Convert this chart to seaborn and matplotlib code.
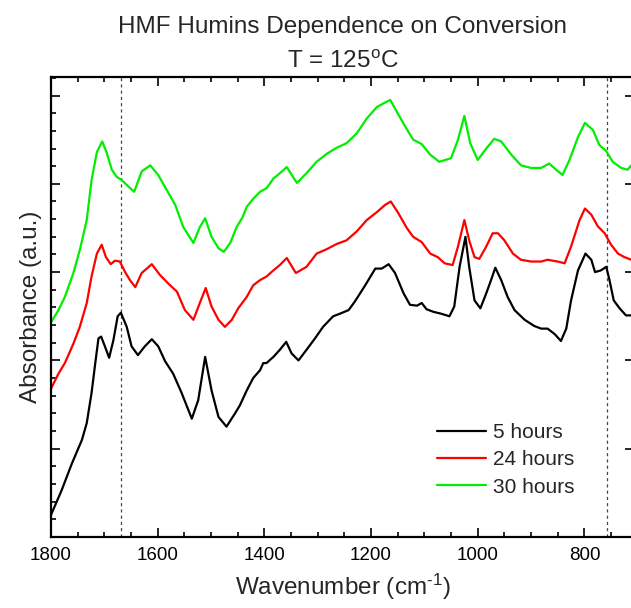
import numpy as np
import pandas as pd
import matplotlib
matplotlib.use("Agg")
import matplotlib.pyplot as plt
from matplotlib.ticker import MultipleLocator
from matplotlib.lines import Line2D
import seaborn as sns

# ---------------- data ----------------
wn_5h = [1800, 1780, 1761, 1742, 1733, 1724, 1717, 1711, 1706, 1699, 1691, 1683, 1675, 1669,
         1658, 1649, 1637, 1624, 1611, 1599, 1586, 1571, 1555, 1536, 1524, 1511, 1499, 1486,
         1471, 1455, 1446, 1433, 1421, 1408, 1402, 1396, 1383, 1371, 1359, 1349, 1336, 1321,
         1305, 1290, 1271, 1258, 1242, 1230, 1211, 1192, 1180, 1167, 1155, 1139, 1127, 1114,
         1105, 1096, 1083, 1069, 1053, 1044, 1034, 1023, 1016, 1006, 995, 984, 975, 967, 956,
         944, 931, 912, 894, 881, 869, 856, 844, 834, 825, 812, 798, 787, 780, 769, 759, 753,
         745, 734, 722, 712]
abs_5h = [0.25, 0.53, 0.83, 1.10, 1.29, 1.63, 1.97, 2.25, 2.27, 2.16, 2.03, 2.23, 2.50, 2.54,
          2.38, 2.16, 2.06, 2.16, 2.24, 2.16, 1.99, 1.85, 1.63, 1.34, 1.55, 2.04, 1.66, 1.36,
          1.25, 1.40, 1.49, 1.66, 1.80, 1.89, 1.97, 1.97, 2.04, 2.12, 2.21, 2.08, 2.00, 2.12,
          2.25, 2.38, 2.50, 2.53, 2.57, 2.67, 2.85, 3.04, 3.04, 3.09, 2.99, 2.76, 2.63, 2.62,
          2.65, 2.58, 2.55, 2.53, 2.50, 2.61, 3.06, 3.40, 3.06, 2.68, 2.59, 2.76, 2.91, 3.05, 2.91,
          2.72, 2.57, 2.46, 2.39, 2.36, 2.36, 2.30, 2.22, 2.36, 2.68, 3.02, 3.21, 3.14, 3.00, 3.02,
          3.06, 2.91, 2.68, 2.59, 2.51, 2.51]

wn_24h = [1800, 1786, 1774, 1758, 1746, 1733, 1724, 1714, 1705, 1697, 1688, 1680, 1671, 1661,
          1652, 1642, 1630, 1611, 1596, 1580, 1564, 1549, 1533, 1521, 1510, 1499, 1486, 1474,
          1461, 1449, 1433, 1421, 1408, 1396, 1383, 1371, 1358, 1341, 1321, 1302, 1283, 1264,
          1246, 1227, 1208, 1189, 1174, 1163, 1149, 1133, 1121, 1105, 1089, 1075, 1062, 1047,
          1037, 1025, 1016, 1006, 997, 984, 972, 962, 950, 934, 919, 900, 881, 869, 850, 837,
          825, 809, 799, 787, 775, 762, 750, 737, 725, 712]
abs_24h = [1.68, 1.85, 1.97, 2.19, 2.38, 2.65, 2.95, 3.21, 3.31, 3.17, 3.09, 3.13, 3.12, 3.00,
           2.91, 2.83, 2.99, 3.09, 2.97, 2.87, 2.78, 2.57, 2.46, 2.65, 2.82, 2.61, 2.46, 2.38,
           2.46, 2.59, 2.72, 2.85, 2.91, 2.95, 3.02, 3.08, 3.16, 2.99, 3.06, 3.21, 3.26, 3.32,
           3.36, 3.46, 3.59, 3.68, 3.76, 3.80, 3.67, 3.50, 3.40, 3.34, 3.21, 3.17, 3.10, 3.08,
           3.29, 3.59, 3.36, 3.17, 3.15, 3.29, 3.44, 3.44, 3.36, 3.21, 3.14, 3.12, 3.12, 3.14, 3.12, 3.10,
           3.29, 3.59, 3.72, 3.65, 3.52, 3.44, 3.31, 3.21, 3.17, 3.14]

wn_30h = [1800, 1786, 1774, 1758, 1746, 1733, 1724, 1714, 1704, 1696, 1686, 1677, 1667, 1655,
          1644, 1630, 1614, 1599, 1583, 1567, 1552, 1533, 1521, 1511, 1499, 1486, 1476, 1464,
          1452, 1441, 1433, 1421, 1408, 1396, 1383, 1371, 1358, 1339, 1321, 1302, 1283, 1264,
          1246, 1227, 1208, 1189, 1177, 1164, 1152, 1136, 1121, 1105, 1089, 1072, 1050, 1037,
          1025, 1014, 1000, 984, 969, 956, 937, 919, 900, 881, 866, 853, 841, 828, 812, 799,
          784, 772, 759, 747, 731, 719, 712]
abs_30h = [2.43, 2.57, 2.72, 2.99, 3.25, 3.59, 4.04, 4.36, 4.48, 4.36, 4.16, 4.08, 4.04, 3.97,
           3.91, 4.14, 4.21, 4.10, 3.93, 3.76, 3.51, 3.33, 3.51, 3.61, 3.40, 3.27, 3.23, 3.33,
           3.51, 3.62, 3.74, 3.83, 3.91, 3.95, 4.06, 4.12, 4.19, 4.01, 4.12, 4.25, 4.34, 4.41,
           4.46, 4.57, 4.74, 4.87, 4.91, 4.95, 4.82, 4.65, 4.50, 4.45, 4.33, 4.25, 4.29, 4.50,
           4.77, 4.46, 4.27, 4.40, 4.51, 4.48, 4.33, 4.21, 4.18, 4.18, 4.23, 4.16, 4.10, 4.27, 4.53, 4.69,
           4.61, 4.44, 4.37, 4.25, 4.18, 4.16, 4.21]

series_labels = ["5 hours", "24 hours", "30 hours"]
series_colors = ["#000000", "#ff0000", "#00ee00"]
ref_lines = [1669, 757]
x_ticks = [1800, 1600, 1400, 1200, 1000, 800]

title_1 = "HMF Humins Dependence on Conversion"
title_2 = "T = 125$^{\\mathrm{o}}$C"
x_label = "Wavenumber (cm$^{\\mathrm{\u2010 1}}$)"
y_label = "Absorbance (a.u.)"

# ---------------- styling ----------------
sns.set_theme(style="ticks")
plt.rcParams["font.family"] = ["Liberation Sans", "DejaVu Sans"]
plt.rcParams["mathtext.fontset"] = "custom"
plt.rcParams["mathtext.rm"] = "Liberation Sans"
plt.rcParams["mathtext.it"] = "Liberation Sans:italic"
plt.rcParams["mathtext.bf"] = "Liberation Sans:bold"

df = pd.concat([
    pd.DataFrame({"wn": wn_5h, "absorb": abs_5h, "series": series_labels[0]}),
    pd.DataFrame({"wn": wn_24h, "absorb": abs_24h, "series": series_labels[1]}),
    pd.DataFrame({"wn": wn_30h, "absorb": abs_30h, "series": series_labels[2]}),
])

W, H = 631, 608
fig = plt.figure(figsize=(W / 100, H / 100), dpi=100)
ax = fig.add_axes([51 / W, (H - 537) / H, (634 - 51) / W, (537 - 77) / H])

sns.lineplot(data=df, x="wn", y="absorb", hue="series", hue_order=series_labels,
             palette=series_colors, estimator=None, sort=False, linewidth=1.6,
             legend=False, ax=ax)

for xv in ref_lines:
    ax.axvline(xv, color="#444444", linestyle=(0, (2.5, 2.5)), linewidth=0.9, zorder=0)

ax.set_xlim(1800, 707)
ax.set_ylim(0, 5.21)
ax.set_xticks(x_ticks)
ax.xaxis.set_minor_locator(MultipleLocator(50))
ax.yaxis.set_major_locator(MultipleLocator(1))
ax.yaxis.set_minor_locator(MultipleLocator(0.2))
ax.set_yticklabels([])

ax.tick_params(which="both", direction="in", top=True, right=True, width=1.2, colors="black")
ax.tick_params(which="major", length=6.5)
ax.tick_params(which="minor", length=3.6, right=False)
ax.tick_params(axis="x", labelsize=13.5, pad=7)
for sp in ax.spines.values():
    sp.set_linewidth(1.6)
    sp.set_color("black")

ax.set_xlabel(x_label, fontsize=17.5, labelpad=6)
ax.set_ylabel(y_label, fontsize=17.5, labelpad=3)

cx = (51 + 634) / 2 / W
fig.text(cx, 1 - 27 / H, title_1, ha="center", va="center", fontsize=17.5)
fig.text(cx, 1 - 62 / H, title_2, ha="center", va="center", fontsize=17.5)

handles = [Line2D([0], [0], color=c, linewidth=1.6) for c in series_colors]
ax.legend(handles, series_labels, loc="upper left", bbox_to_anchor=(437 / W, 1 - 423 / H),
          bbox_transform=fig.transFigure, frameon=False, fontsize=15, borderpad=0,
          handlelength=2.35, handletextpad=0.35, labelspacing=0.4, borderaxespad=0)

fig.savefig("out.png", dpi=100)
